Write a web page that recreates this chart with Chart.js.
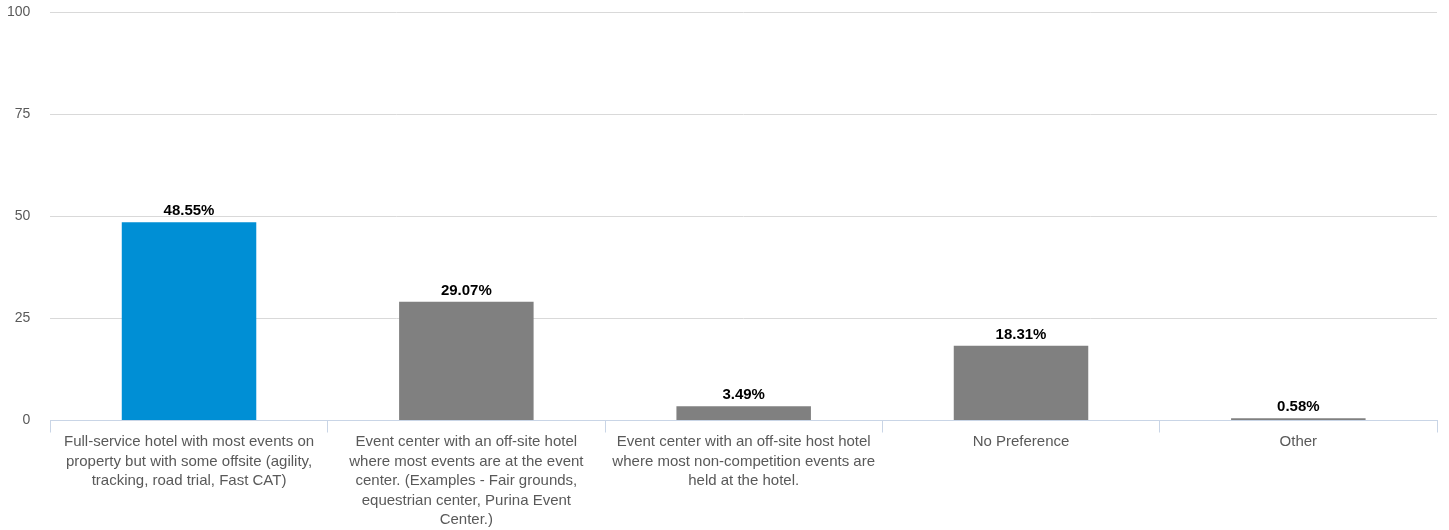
<!DOCTYPE html>
<html lang="en">
  <head>
    <meta charset="UTF-8" />
    <title>Venue Preference</title>
    <script src="https://cdn.jsdelivr.net/npm/chart.js"></script>
    <style>
      html, body { margin: 0; padding: 0; background: #fff; }
      #wrap { width: 1449px; height: 530px; position: relative; }
    </style>
  </head>
  <body>
    <div id="wrap"><canvas id="myChart"></canvas></div>
    <script>
      // chart data
      const categories = [
        ["Full-service hotel with most events on", "property but with some offsite (agility,", "tracking, road trial, Fast CAT)"],
        ["Event center with an off-site hotel", "where most events are at the event", "center. (Examples - Fair grounds,", "equestrian center, Purina Event", "Center.)"],
        ["Event center with an off-site host hotel", "where most non-competition events are", "held at the hotel."],
        "No Preference",
        "Other",
      ];
      const percentValues = [48.55, 29.07, 3.49, 18.31, 0.58];
      const barColors = ["#008fd5", "#808080", "#808080", "#808080", "#808080"];
      const yTicks = [0, 25, 50, 75, 100];

      const fontFamily = "'Liberation Sans', Arial, sans-serif";

      // draws the bold % label above each bar
      const valueLabels = {
        id: "valueLabels",
        afterDatasetsDraw(chart) {
          const c = chart.ctx;
          const meta = chart.getDatasetMeta(0);
          c.save();
          c.font = "bold 15px " + fontFamily;
          c.fillStyle = "#000";
          c.textAlign = "center";
          c.textBaseline = "alphabetic";
          meta.data.forEach((bar, i) => {
            c.fillText(percentValues[i].toFixed(2) + "%", bar.x, bar.y - 7);
          });
          c.restore();
        },
      };

      const ctx = document.getElementById("myChart").getContext("2d");
      new Chart(ctx, {
        type: "bar",
        data: {
          labels: categories,
          datasets: [
            {
              data: percentValues,
              backgroundColor: barColors,
              categoryPercentage: 1,
              barPercentage: 0.485,
            },
          ],
        },
        options: {
          responsive: true,
          maintainAspectRatio: false,
          animation: false,
          layout: { padding: { top: 12, right: 12, left: -13, bottom: 0 } },
          plugins: { legend: { display: false }, tooltip: { enabled: false } },
          scales: {
            x: {
              offset: true,
              afterFit: (s) => {
                s.paddingLeft = 0;
                s.paddingRight = 0;
              },
              grid: {
                offset: true,
                drawOnChartArea: false,
                drawTicks: true,
                tickLength: 12,
                color: "#c9d5e6",
              },
              border: { color: "#c9d5e6" },
              ticks: {
                autoSkip: false,
                maxRotation: 0,
                minRotation: 0,
                padding: 0,
                color: "#595959",
                font: { family: fontFamily, size: 15, lineHeight: 1.3 },
              },
            },
            y: {
              min: 0,
              max: 100,
              afterBuildTicks: (axis) => {
                axis.ticks = yTicks.map((v) => ({ value: v }));
              },
              afterFit: (s) => {
                s.paddingTop = 0;
                s.paddingBottom = 0;
              },
              grid: { color: "#d9d9d9", drawTicks: false },
              border: { display: false },
              ticks: {
                padding: 20,
                color: "#595959",
                font: { family: fontFamily, size: 14 },
              },
            },
          },
        },
        plugins: [valueLabels],
      });
    </script>
  </body>
</html>
